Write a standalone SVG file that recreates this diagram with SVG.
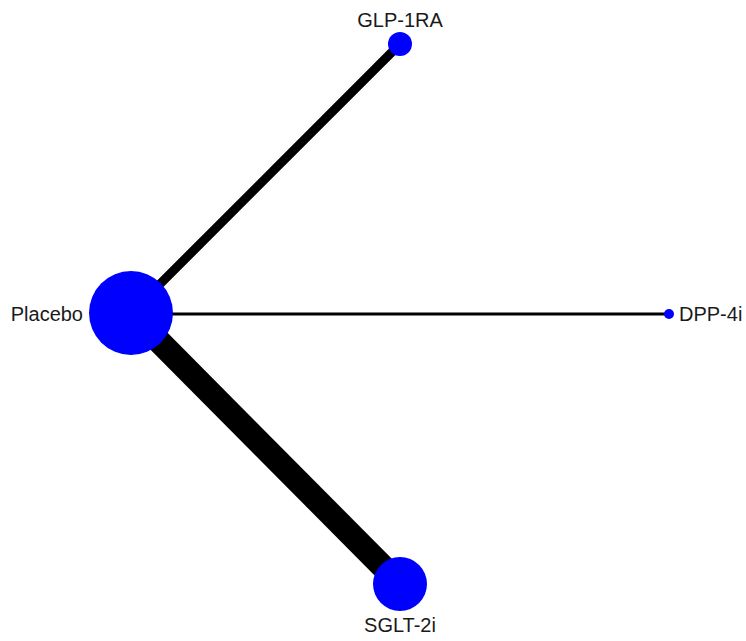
<svg xmlns="http://www.w3.org/2000/svg" width="746" height="641" viewBox="0 0 746 641">
<style>
.edge{stroke:#000;fill:none}
.node circle{fill:#0000ff}
.node text{font-family:"Liberation Sans",Arial,sans-serif;font-size:20px;fill:#1a1a1a}
</style>
<rect width="746" height="641" fill="#fff"/>
<g id="edges">
<line class="edge" x1="131" y1="313" x2="400" y2="44" stroke-width="9"/>
<line class="edge" x1="131" y1="314" x2="669" y2="314" stroke-width="3"/>
<line class="edge" x1="131" y1="313" x2="400" y2="584" stroke-width="24"/>
</g>
<g id="node-placebo" class="node">
<circle cx="131" cy="313" r="42"/>
<text x="83" y="321" text-anchor="end">Placebo</text>
</g>
<g id="node-glp1ra" class="node">
<circle cx="400" cy="44" r="12"/>
<text x="400" y="27" text-anchor="middle">GLP-1RA</text>
</g>
<g id="node-dpp4i" class="node">
<circle cx="669" cy="314" r="5"/>
<text x="679" y="321">DPP-4i</text>
</g>
<g id="node-sglt2i" class="node">
<circle cx="400" cy="584" r="27"/>
<text x="400" y="632" text-anchor="middle">SGLT-2i</text>
</g>
</svg>
